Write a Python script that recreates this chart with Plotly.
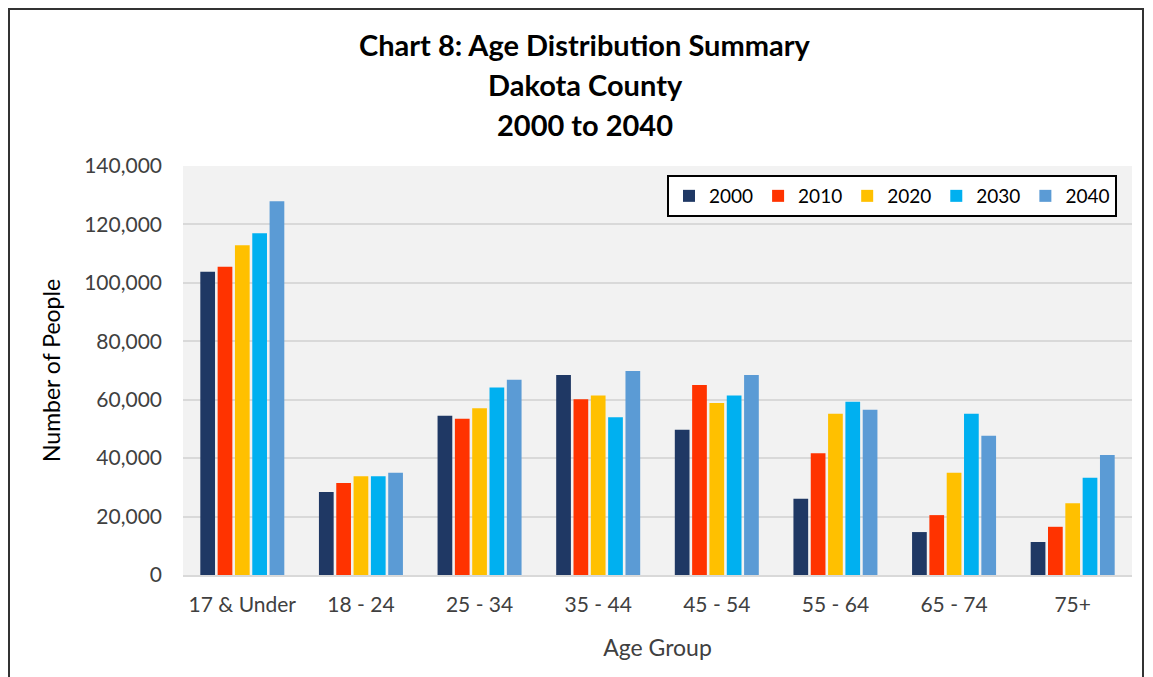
import plotly.graph_objects as go

categories = ["17 & Under", "18 - 24", "25 - 34", "35 - 44", "45 - 54", "55 - 64", "65 - 74", "75+"]
years = ["2000", "2010", "2020", "2030", "2040"]
v2000 = [103800, 28400, 54500, 68500, 49700, 26100, 14700, 11300]
v2010 = [105500, 31500, 53500, 60200, 65000, 41700, 20500, 16500]
v2020 = [112900, 33800, 57100, 61400, 58900, 55200, 35000, 24600]
v2030 = [117000, 33800, 64200, 54000, 61400, 59300, 55200, 33300]
v2040 = [127900, 35000, 66800, 69800, 68500, 56600, 47700, 41100]
series = [v2000, v2010, v2020, v2030, v2040]
colors = ["#1f3864", "#ff3300", "#ffc000", "#00b0f0", "#5b9bd5"]
title_lines = ["Chart 8: Age Distribution Summary", "Dakota County", "2000 to 2040"]

FONT = "Lato"
fig = go.Figure()
for name, vals, c in zip(years, series, colors):
    fig.add_trace(go.Bar(name=name, x=categories, y=vals, marker=dict(color=c, line=dict(width=0))))

W, H = 1153, 677
L, R, T, B = 183, 21, 166, 102
pw, ph = W - L - R, H - T - B

def px(x):
    return (x - L) / pw

def py(y):
    return (H - B - y) / ph

annotations = []
for line, yy in zip(title_lines, [45, 84, 125]):
    annotations.append(dict(text=f"<b>{line}</b>", x=px(585), y=py(yy), xref="paper", yref="paper",
                            showarrow=False, font=dict(family=FONT, size=29, color="#000000"),
                            xanchor="center", yanchor="middle"))

fig.update_layout(
    width=W, height=H,
    margin=dict(l=L, r=R, t=T, b=B),
    paper_bgcolor="white", plot_bgcolor="#f2f2f2",
    barmode="group", bargap=0.27, bargroupgap=0.15,
    font=dict(family=FONT, size=21, color="#404040"),
    annotations=annotations,
    xaxis=dict(title=dict(text="Age Group", font=dict(size=23, color="#404040"), standoff=25),
               showline=True, linecolor="#d9d9d9", linewidth=2, ticks="", tickfont=dict(size=21),
               ticklabelstandoff=10),
    yaxis=dict(title=dict(text="Number of People", font=dict(size=23, color="#000000"), standoff=17),
               range=[0, 140000], dtick=20000, tickformat=",", gridcolor="#d9d9d9", gridwidth=2,
               zeroline=False, tickfont=dict(size=21), ticklabelstandoff=20),
    legend=dict(orientation="h", x=px(1117), xanchor="right", y=py(175), yanchor="top",
                bgcolor="white", bordercolor="black", borderwidth=2,
                font=dict(size=19, color="#000000"), itemwidth=30, traceorder="normal"),
    shapes=[dict(type="rect", xref="paper", yref="paper", x0=px(9), x1=px(1143), y0=py(700), y1=py(9),
                 line=dict(color="#333333", width=2), fillcolor="rgba(0,0,0,0)", layer="above")],
)

fig.write_html("out.html")
